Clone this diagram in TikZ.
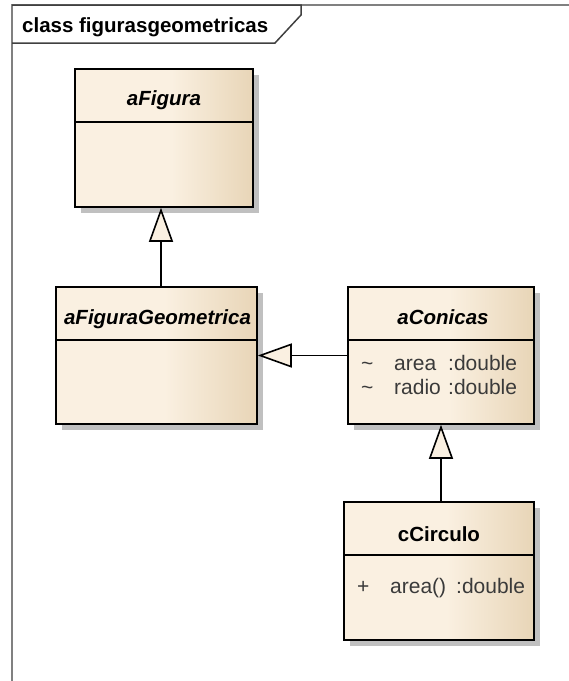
\documentclass[tikz,border=0pt]{standalone}
\usepackage{fontspec}
\setmainfont{Liberation Sans}
\usetikzlibrary{arrows.meta,shadows}
\definecolor{classlight}{HTML}{FAF0E1}
\definecolor{classdark}{HTML}{E8D5B7}
\definecolor{shadowgray}{HTML}{C0C0C0}
\definecolor{framegray}{HTML}{808080}
\definecolor{headgray}{HTML}{404040}
\definecolor{attrgray}{HTML}{3A3A3A}
\pgfdeclarehorizontalshading{classfill}{100bp}{color(0bp)=(classlight); color(52bp)=(classlight); color(75bp)=(classdark); color(100bp)=(classdark)}
\newcommand\umlsize{\fontsize{20.5}{24}\selectfont}
\newcommand\membersize{\fontsize{21}{24}\selectfont}

\begin{document}
\begin{tikzpicture}[x=1pt,y=-1pt,
  umlclass/.style={draw=black,line width=1.6pt,rectangle,inner sep=0pt,shade,shading=classfill,
    drop shadow={shadow xshift=6pt,shadow yshift=-6pt,fill=shadowgray,opacity=1}},
  abstitle/.style={anchor=base,inner sep=0pt,font=\umlsize\bfseries\itshape},
  title/.style={anchor=base,inner sep=0pt,font=\umlsize\bfseries},
  member/.style={anchor=base west,inner sep=0pt,text=attrgray,font=\membersize},
  gen/.style={line width=1.7pt,-{Triangle[length=34pt,width=24pt,fill=classlight,line width=1.6pt]}}]
\useasboundingbox (0,0) rectangle (569,681);
% frame and its header
\draw[framegray,line width=1.5pt] (12,681) -- (12,5) -- (569,5);
\draw[headgray,line width=1.5pt] (12,5) -- (301,5) -- (301,15) -- (275,43) -- (12,43);
\node[title,anchor=base west] (pkgName) at (22,32) {class figurasgeometricas};
% classes
\node[umlclass,minimum width=178pt,minimum height=138pt] (aFigura) at (164,138) {};
\node[umlclass,minimum width=201pt,minimum height=137pt] (aFiguraGeometrica) at (156.5,355.5) {};
\node[umlclass,minimum width=186pt,minimum height=137pt] (aConicas) at (441,355.5) {};
\node[umlclass,minimum width=190pt,minimum height=138pt] (cCirculo) at (439,571) {};
\foreach \c in {aFigura,aFiguraGeometrica,aConicas,cCirculo}
  \draw[line width=1.6pt] ([yshift=-54pt]\c.north west) -- ([yshift=-54pt]\c.north east);
\node[abstitle] (aFiguraName) at (164,105) {aFigura};
\node[abstitle] (aFiguraGeometricaName) at (157.5,324) {aFiguraGeometrica};
\node[abstitle] (aConicasName) at (443,324) {aConicas};
\node[title] (cCirculoName) at (439,541) {cCirculo};
% members
\node[member] (areaVis) at (361,370) {\textasciitilde};
\node[member] (areaAttr) at (394,370) {area};
\node[member] (areaType) at (448,370) {:double};
\node[member] (radioVis) at (361,394) {\textasciitilde};
\node[member] (radioAttr) at (394,394) {radio};
\node[member] (radioType) at (448,394) {:double};
\node[member] (areaOpVis) at (357,593) {+};
\node[member] (areaOp) at (390,593) {area()};
\node[member] (areaOpType) at (456,593) {:double};
% generalizations
\draw[gen] ([xshift=4.5pt]aFiguraGeometrica.north) -- ([xshift=-3pt]aFigura.south);
\draw[gen] (aConicas.west) -- (aFiguraGeometrica.east);
\draw[gen] ([xshift=2pt]cCirculo.north) -- (aConicas.south);
\end{tikzpicture}
\end{document}
